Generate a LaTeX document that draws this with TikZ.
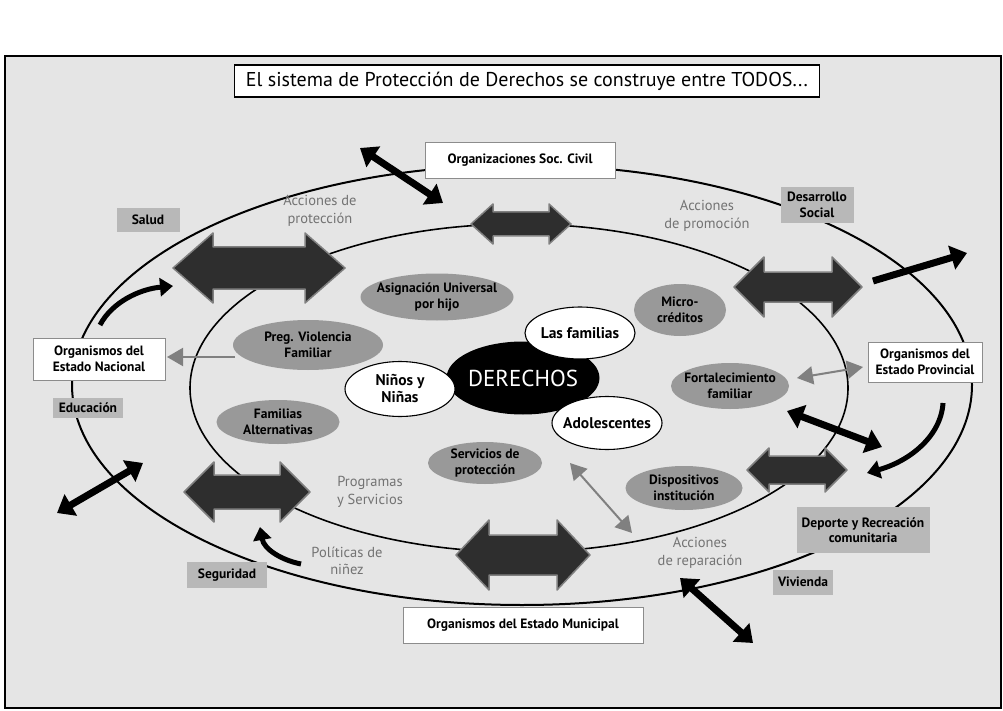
\documentclass[tikz,border=0pt]{standalone}
\usepackage{fontspec}
\setmainfont{PT Sans}
\usetikzlibrary{shapes.geometric,arrows.meta}
% double block arrow: centre x, centre y, half length, half head height, half body height, head length
\newcommand\mydarr[6]{%
  \draw[darkarr, shift={(#1,#2)}] (-#3,0) -- (-#3+#6,-#4) -- (-#3+#6,-#5) -- (#3-#6,-#5) -- (#3-#6,-#4)
     -- (#3,0) -- (#3-#6,#4) -- (#3-#6,#5) -- (-#3+#6,#5) -- (-#3+#6,#4) -- cycle;}
\begin{document}
\begin{tikzpicture}[x=1pt,y=-1pt,
  lbl/.style={font=\fontsize{13.5}{15.5}\selectfont\bfseries, align=center, inner sep=1pt},
  orgbox/.style={lbl, rectangle, fill=white, draw=black!45, line width=0.8},
  graybox/.style={lbl, rectangle, fill=black!28, inner sep=2pt},
  graytxt/.style={font=\fontsize{14.5}{17.5}\selectfont, text=black!55, align=center, inner sep=0pt},
  gell/.style={ellipse, fill=black!40, inner sep=0pt},
  well/.style={ellipse, fill=white, draw=black, line width=1.1, inner sep=0pt},
  wtxt/.style={align=center, inner sep=0pt, font=\fontsize{15.5}{17}\selectfont\bfseries},
  darkarr/.style={fill=black!82, draw=black!50, line width=1.5, line join=round},
  thickarr/.style={line width=7, {Triangle[length=16,width=24]}-{Triangle[length=16,width=24]}},
  thickone/.style={line width=7, -{Triangle[length=16,width=24]}},
  curvarr/.style={line width=5, -{Triangle[length=13,width=18]}},
  grayarr/.style={draw=black!50, line width=2, -{Triangle[length=16,width=18]}, color=black!50},
  graydbl/.style={draw=black!50, line width=2, {Triangle[length=16,width=18]}-{Triangle[length=16,width=18]}, color=black!50}
]
\useasboundingbox (0,0) rectangle (1003,711);
\fill[white] (0,0) rectangle (1003,711);
\draw[fill=black!10, line width=1.3] (5,56) rectangle (1001,708);

% title
\node[rectangle, draw=black, fill=white, line width=1.1, minimum width=585, minimum height=32,
      inner xsep=4pt, font=\fontsize{20}{22}\selectfont] (title) at (527,81)
      {El sistema de Protección de Derechos se construye entre TODOS...};

% rings
\draw[line width=2] (522,385) ellipse [x radius=450, y radius=220];
\draw[line width=1.6] (519,388) ellipse [x radius=329, y radius=164];

% organisations
\node[orgbox, minimum width=190, minimum height=36] (osc) at (520,160) {Organizaciones Soc. Civil};
\node[orgbox, minimum width=132, minimum height=42] (onac) at (99,359) {Organismos del\\Estado Nacional};
\node[orgbox, minimum width=114, minimum height=40] (oprov) at (925,362) {Organismos del\\Estado Provincial};
\node[orgbox, minimum width=240, minimum height=36] (omun) at (523,625) {Organismos del Estado Municipal};

% grey boxed areas
\node[graybox, minimum width=63, minimum height=24] (salud) at (148,220) {Salud};
\node[graybox, minimum width=73, minimum height=36] (dsoc) at (817,205) {Desarrollo\\Social};
\node[graybox, minimum width=70, minimum height=20] (educ) at (88,408) {Educación};
\node[graybox, minimum width=80, minimum height=26] (segur) at (227,575) {Seguridad};
\node[graybox, minimum width=133, minimum height=46] (depor) at (863,530) {Deporte y Recreación\\comunitaria};
\node[graybox, minimum width=60, minimum height=25] (viv) at (803,582) {Vivienda};

% grey text
\node[graytxt] (accprot) at (320,211) {Acciones de\\protección};
\node[graytxt] (accprom) at (707,216) {Acciones\\de promoción};
\node[graytxt] (progserv) at (370,492) {Programas\\y Servicios};
\node[graytxt] (polnin) at (347,561) {Políticas de\\niñez};
\node[graytxt] (accrep) at (700,553) {Acciones\\de reparación};

% grey programme ellipses
\node[gell, minimum width=153, minimum height=47] (auh) at (437,297) {};
\node[lbl] (auht) at (auh) {Asignación Universal\\por hijo};
\node[gell, minimum width=92, minimum height=52] (micro) at (680,310) {};
\node[lbl] (microt) at (micro) {Micro-\\créditos};
\node[gell, minimum width=150, minimum height=50] (pvf) at (308,345) {};
\node[lbl] (pvft) at (pvf) {Preg. Violencia\\Familiar};
\node[gell, minimum width=118, minimum height=46] (forta) at (730,386) {};
\node[lbl] (fortat) at (forta) {Fortalecimiento\\familiar};
\node[gell, minimum width=123, minimum height=44] (falt) at (278,422) {};
\node[lbl] (faltt) at (falt) {Familias\\Alternativas};
\node[gell, minimum width=114, minimum height=42] (sprot) at (485,463) {};
\node[lbl] (sprott) at (sprot) {Servicios de\\protección};
\node[gell, minimum width=117, minimum height=44] (disp) at (684,488) {};
\node[lbl] (dispt) at (disp) {Dispositivos\\institución};

% centre
\node[ellipse, fill=black, minimum width=153, minimum height=73, inner sep=0pt] (der) at (523,378) {};
\node[text=white, inner sep=0pt, font=\fontsize{23}{25}\selectfont] (dert) at (der) {DERECHOS};
\node[well, minimum width=110, minimum height=52] (fam) at (580,333) {};
\node[wtxt] (famt) at (fam) {Las familias};
\node[well, minimum width=110, minimum height=55] (nin) at (400,389) {};
\node[wtxt] (nint) at (nin) {Niños y\\Niñas};
\node[well, minimum width=110, minimum height=53] (adol) at (607,423) {};
\node[wtxt] (adolt) at (adol) {Adolescentes};

% dark double arrows
\mydarr{259}{268}{86}{35}{21}{40}
\mydarr{521}{224}{50}{20}{12}{22}
\mydarr{798}{287}{64}{30}{15}{30}
\mydarr{247}{492}{63}{30}{17}{30}
\mydarr{523}{555}{67}{35}{20}{33}
\mydarr{797}{470}{50}{22}{14}{22}

% end points
\coordinate (a1s) at (360,148); \coordinate (a1e) at (443,203);
\coordinate (a2s) at (873,281); \coordinate (a2e) at (967,253);
\coordinate (a3s) at (57,513);  \coordinate (a3e) at (143,463);
\coordinate (a4s) at (787,411); \coordinate (a4e) at (882,447);
\coordinate (a5s) at (680,578); \coordinate (a5e) at (753,643);
\coordinate (c1s) at (100,325); \coordinate (c1e) at (173,286);
\coordinate (c2s) at (301,564); \coordinate (c2e) at (260,527);
\coordinate (c3s) at (943,403); \coordinate (c3e) at (867,473);
\coordinate (g1s) at (235,357); \coordinate (g1e) at (167,357);
\coordinate (g2s) at (797,378); \coordinate (g2e) at (863,367);
\coordinate (g3s) at (570,463); \coordinate (g3e) at (632,533);

% thick black arrows
\draw[thickarr] (a1s) -- (a1e);
\draw[thickone] (a2s) -- (a2e);
\draw[thickarr] (a3s) -- (a3e);
\draw[thickarr] (a4s) -- (a4e);
\draw[thickarr] (a5s) -- (a5e);

% curved arrows
\draw[curvarr] (c1s) .. controls (112,302) and (140,289) .. (c1e);
\draw[curvarr] (c2s) .. controls (281,560) and (264,549) .. (c2e);
\draw[curvarr] (c3s) .. controls (941,436) and (910,461) .. (c3e);

% grey arrows
\draw[grayarr] (g1s) -- (g1e);
\draw[graydbl] (g2s) -- (g2e);
\draw[graydbl] (g3s) -- (g3e);
\end{tikzpicture}
\end{document}
